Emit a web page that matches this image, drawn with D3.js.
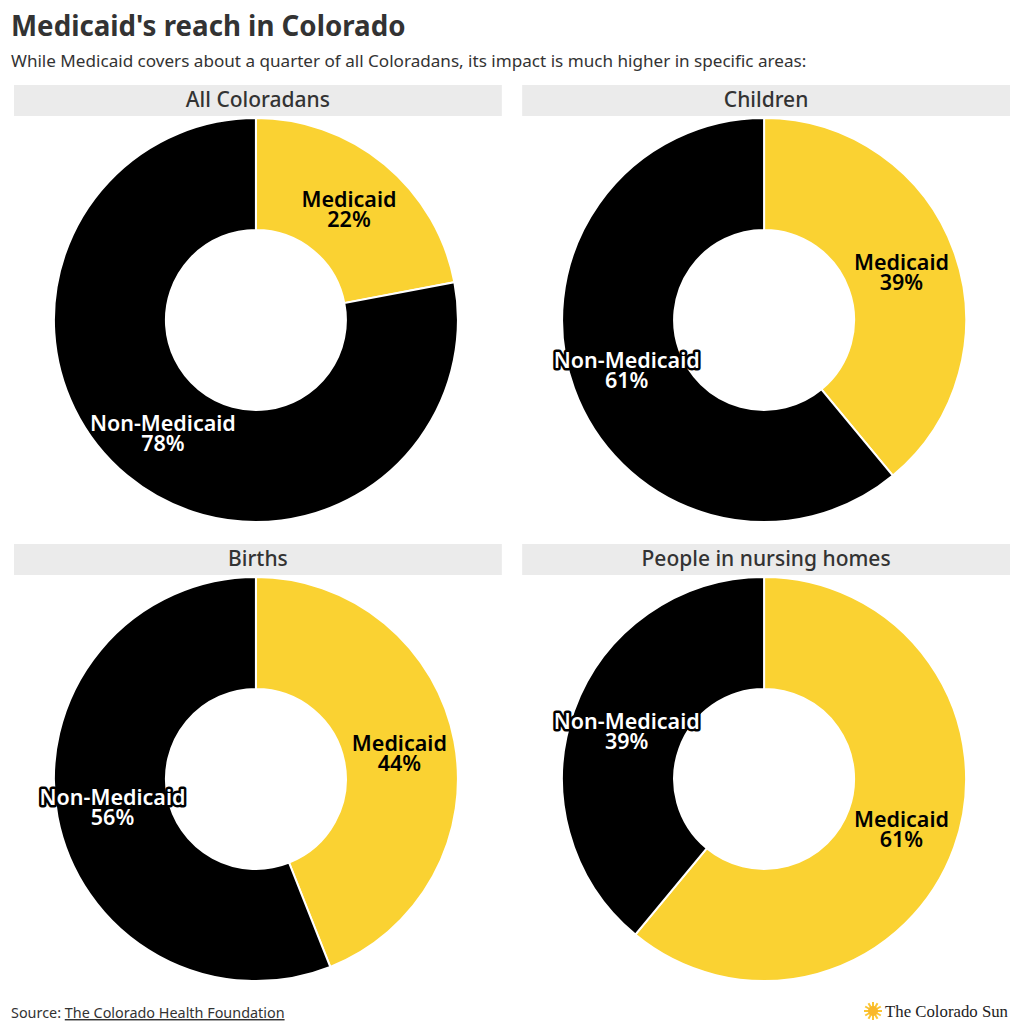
<!DOCTYPE html>
<html>
<head>
<meta charset="utf-8">
<script src="https://cdn.jsdelivr.net/npm/d3@7"></script>
<style>
  body { margin: 0; background: #fff; font-family: "Noto Sans", Roboto, sans-serif; }
</style>
</head>
<body>
<svg id="chart" width="1020" height="1036"></svg>
<script>
'use strict'

const panelTitles = ['All Coloradans', 'Children', 'Births', 'People in nursing homes']
const categories = ['Medicaid', 'Non-Medicaid']
const medicaidShare = [22, 39, 44, 61]
const nonMedicaidShare = [78, 61, 56, 39]

const colors = { 'Medicaid': '#fad232', 'Non-Medicaid': '#000000' }

const svg = d3.select('#chart')

svg.append('text')
  .attr('x', 11).attr('y', 36)
  .attr('font-size', 27.7).attr('font-weight', 700)
  .attr('fill', '#333')
  .text("Medicaid's reach in Colorado")

svg.append('text')
  .attr('x', 11).attr('y', 67)
  .attr('font-size', 17.1)
  .attr('fill', '#333')
  .text('While Medicaid covers about a quarter of all Coloradans, its impact is much higher in specific areas:')

const cols = d3.scaleBand().domain([0, 1]).range([14, 1010]).paddingInner(0.04)
const rows = d3.scaleOrdinal().domain([0, 1]).range([85, 544])

const outerR = 202, innerR = 90

const pie = d3.pie().sort(null).value(d => d.value)
const arc = d3.arc().innerRadius(innerR).outerRadius(outerR)

panelTitles.forEach(function(title, i){
  let col = i % 2, row = Math.floor(i / 2)
  let x0 = cols(col), w = cols.bandwidth(), y0 = rows(row)
  let g = svg.append('g')

  g.append('rect')
    .attr('x', x0).attr('y', y0)
    .attr('width', w).attr('height', 31)
    .attr('fill', '#ebebeb')
  g.append('text')
    .attr('x', x0 + w / 2).attr('y', y0 + 22)
    .attr('text-anchor', 'middle')
    .attr('font-size', 21).attr('font-weight', 500)
    .attr('fill', '#333')
    .text(title)

  let data = [
    { key: categories[0], value: medicaidShare[i] },
    { key: categories[1], value: nonMedicaidShare[i] }
  ]
  let cx = x0 + w / 2 - 2, cy = y0 + 235
  let donut = g.append('g').attr('transform', `translate(${cx},${cy})`)
  let arcs = pie(data)

  donut.selectAll('path')
    .data(arcs)
    .join('path')
    .attr('d', arc)
    .attr('fill', d => colors[d.data.key])
    .attr('stroke', '#fff')
    .attr('stroke-width', 2)

  donut.selectAll('text.lbl')
    .data(arcs)
    .join('text')
    .attr('class', 'lbl')
    .attr('transform', d => `translate(${arc.centroid(d)})`)
    .attr('text-anchor', 'middle')
    .attr('font-size', 21.5).attr('font-weight', 600)
    .attr('fill', d => d.data.key === 'Non-Medicaid' ? '#fff' : '#000')
    .attr('stroke', d => d.data.key === 'Non-Medicaid' ? '#000' : colors['Medicaid'])
    .attr('stroke-width', 5)
    .attr('stroke-linejoin', 'round')
    .style('paint-order', 'stroke')
    .each(function(d){
      let t = d3.select(this)
      t.append('tspan').attr('x', 0).attr('y', -1).text(d.data.key)
      t.append('tspan').attr('x', 0).attr('y', 19).text(d.data.value + '%')
    })
})

// footer
let src = svg.append('text')
  .attr('x', 11).attr('y', 1018)
  .attr('font-size', 14.4)
  .attr('fill', '#333')
src.append('tspan').text('Source: ')
src.append('tspan').attr('text-decoration', 'underline').text('The Colorado Health Foundation')

let logo = svg.append('g').attr('transform', 'translate(873,1011)')
let rays = d3.range(12).map(k => k * 30)
logo.selectAll('line')
  .data(rays)
  .join('line')
  .attr('x1', 0).attr('y1', 0)
  .attr('x2', d => Math.cos(d * Math.PI / 180) * 9)
  .attr('y2', d => Math.sin(d * Math.PI / 180) * 9)
  .attr('stroke', '#fbc531').attr('stroke-width', 2)
logo.append('circle').attr('r', 5).attr('fill', '#f9b82a')
logo.append('text')
  .attr('x', 12).attr('y', 6)
  .attr('font-family', '"Liberation Serif", "DejaVu Serif", serif')
  .attr('font-size', 17)
  .attr('fill', '#222')
  .attr('textLength', 123)
  .attr('lengthAdjust', 'spacingAndGlyphs')
  .text('The Colorado Sun')
</script>
</body>
</html>
